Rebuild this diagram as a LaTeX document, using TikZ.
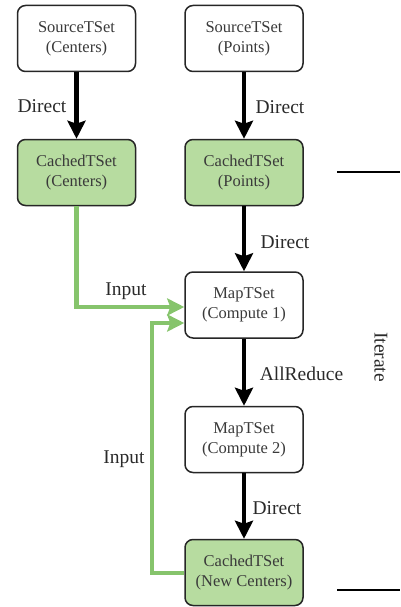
\documentclass[tikz,border=0pt]{standalone}
\usepackage{fontspec}
\setmainfont{Liberation Serif}
\usetikzlibrary{arrows.meta,calc}
\definecolor{boxgreen}{HTML}{B7DCA0}
\definecolor{linegreen}{HTML}{86C46C}
\definecolor{boxtext}{HTML}{3A3A3A}
\definecolor{labeltext}{HTML}{2A2A2A}
\tikzset{
  tbox/.style={draw=black!85, line width=1.5pt, rounded corners=8pt, fill=white,
    minimum width=118pt, minimum height=66pt, inner sep=0pt, align=center,
    text=boxtext, font=\fontsize{16.5}{20}\selectfont},
  gbox/.style={tbox, fill=boxgreen},
  lbl/.style={text=labeltext, font=\fontsize{19.5}{22}\selectfont, inner sep=0pt},
  blk/.style={draw=black, line width=4.5pt, -{Stealth[width=18pt,length=18pt,inset=3pt]}},
  grn/.style={draw=linegreen, line width=4.5pt, -{Stealth[width=17pt,length=17pt,inset=3pt]}},
  brk/.style={draw=black, line width=2.8pt}
}
\begin{document}
\begin{tikzpicture}[x=1pt,y=-1pt]
\useasboundingbox (0,0) rectangle (400,607);
\node[tbox] (sc) at (76.5,38.5) {SourceTSet\\(Centers)};
\node[tbox] (sp) at (244,38.5) {SourceTSet\\(Points)};
\node[gbox] (cc) at (76.5,172.5) {CachedTSet\\(Centers)};
\node[gbox] (cp) at (244,172.5) {CachedTSet\\(Points)};
\node[tbox] (m1) at (244,305) {MapTSet\\(Compute 1)};
\node[tbox] (m2) at (244,439.5) {MapTSet\\(Compute 2)};
\node[gbox] (nc) at (244,572.5) {CachedTSet\\(New Centers)};

\draw[blk] (sc) -- (cc);
\draw[blk] (sp) -- (cp);
\draw[blk] (cp) -- (m1);
\draw[blk] (m1) -- (m2);
\draw[blk] (m2) -- (nc);

\coordinate (in1) at ($(m1.west)+(0,2)$);
\coordinate (in2) at ($(m1.west)+(0,18)$);
\coordinate (turn) at (152,573);
\draw[grn] (cc.south) |- (in1);
\draw[grn] (nc.west |- turn) -- (turn) |- (in2);

\node[lbl] (d1) at (42,106) {Direct};
\node[lbl] (d2) at (280,107) {Direct};
\node[lbl] (d3) at (285,242) {Direct};
\node[lbl] (ar) at (301.5,374) {AllReduce};
\node[lbl] (d4) at (277,508) {Direct};
\node[lbl] (i1) at (126,291) {Input};
\node[lbl] (i2) at (124,459) {Input};
\node[lbl, rotate=-90] (it) at (381,357) {Iterate};

\coordinate (bt1) at (337,172);
\coordinate (bt2) at (400,172);
\coordinate (bb1) at (337,590);
\coordinate (bb2) at (400,590);
\draw[brk] (bt1) -- (bt2);
\draw[brk] (bb1) -- (bb2);
\end{tikzpicture}
\end{document}
